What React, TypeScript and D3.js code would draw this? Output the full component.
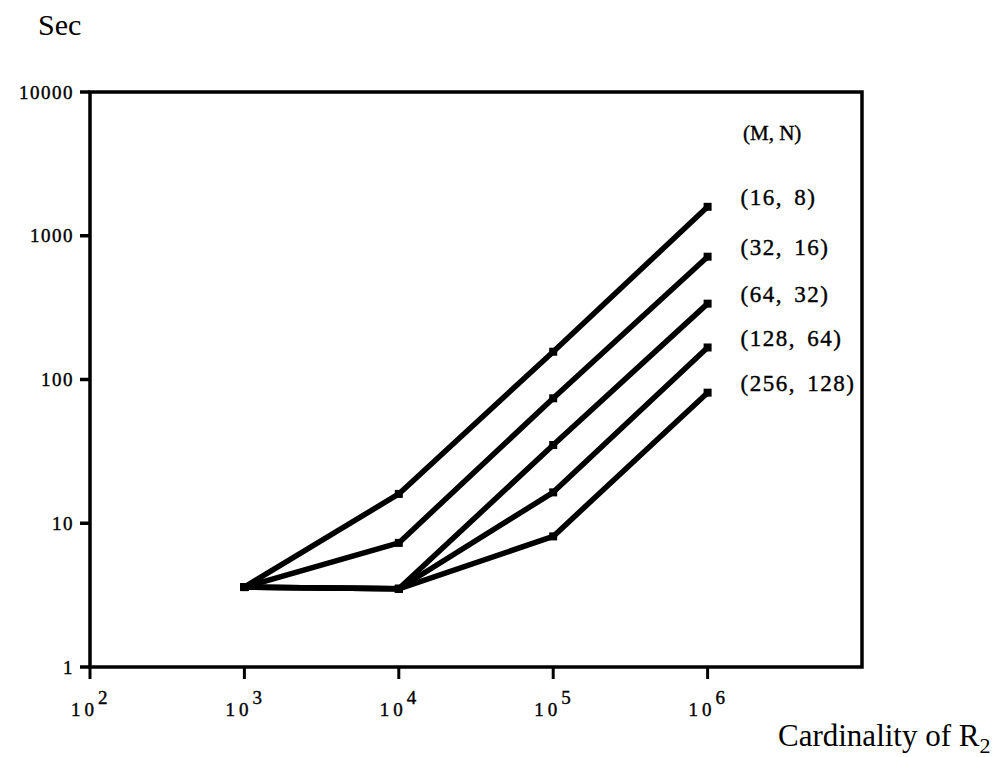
import React from 'react';
import * as d3 from 'd3';

// cardinality of R2 (x) and elapsed seconds (y)
const cardinalities = [1e3, 1e4, 1e5, 1e6];
const seriesLabels = ['(16, 8)', '(32, 16)', '(64, 32)', '(128, 64)', '(256, 128)'];
const secM16 = [3.6, 16, 156, 1590];
const secM32 = [3.6, 7.3, 74, 715];
const secM64 = [3.6, 3.5, 35, 337];
const secM128 = [3.6, 3.5, 16.4, 167];
const secM256 = [3.6, 3.5, 8.1, 81];
const seriesValues = [secM16, secM32, secM64, secM128, secM256];

const yTicks = [1, 10, 100, 1000, 10000];
const yTickLabels = ['1', '10', '100', '1000', '10000'];
const xTicks = [1e2, 1e3, 1e4, 1e5, 1e6];
const xTickExponents = ['2', '3', '4', '5', '6'];

const serif = '"Liberation Serif", "DejaVu Serif", serif';

const App = () => {
    const width = 998;
    const height = 757;

    const x = d3.scaleLog().domain([1e2, 1e7]).range([90, 862]);
    const y = d3.scaleLog().domain([1, 1e4]).range([667, 92]);

    const line = d3
        .line<number>()
        .x((_, i) => x(cardinalities[i]))
        .y((d) => y(d));

    const left = x.range()[0];
    const right = x.range()[1];
    const top = y.range()[1];
    const bottom = y.range()[0];

    // scanned text looks a little heavier than a plain serif
    const ink = { fill: '#000', stroke: '#000', strokeWidth: 0.4 };

    return (
        <svg
            width={width}
            height={height}
            style={{ position: 'absolute', left: 0, top: 0, background: '#fff' }}
        >
            {/* frame */}
            <rect
                x={left}
                y={top}
                width={right - left}
                height={bottom - top}
                fill="none"
                stroke="#000"
                strokeWidth={3.5}
            />

            {/* y axis ticks */}
            {yTicks.map((t, i) => (
                <g key={t}>
                    <line x1={left - 10} x2={left} y1={y(t)} y2={y(t)} stroke="#000" strokeWidth={3.5} />
                    <text
                        x={left - 16}
                        y={y(t)}
                        dy="0.35em"
                        textAnchor="end"
                        fontFamily={serif}
                        fontSize={19}
                        letterSpacing={1.5}
                        {...ink}
                    >
                        {yTickLabels[i]}
                    </text>
                </g>
            ))}

            {/* x axis ticks */}
            {xTicks.map((t, i) => (
                <g key={t}>
                    <line x1={x(t)} x2={x(t)} y1={bottom} y2={bottom + 12} stroke="#000" strokeWidth={3} />
                    <text x={x(t) - 19} y={bottom + 49} fontFamily={serif} fontSize={19} {...ink}>
                        <tspan letterSpacing={4}>10</tspan>
                        <tspan dy={-12}>{xTickExponents[i]}</tspan>
                    </text>
                </g>
            ))}

            {/* series */}
            {seriesValues.map((vals, s) => (
                <g key={seriesLabels[s]}>
                    <path d={line(vals) || ''} fill="none" stroke="#000" strokeWidth={5.5} strokeLinejoin="round" />
                    {vals.map((v, i) => (
                        <rect
                            key={i}
                            x={x(cardinalities[i]) - 4}
                            y={y(v) - 4}
                            width={8}
                            height={8}
                            fill="#000"
                        />
                    ))}
                    <text
                        x={x(cardinalities[cardinalities.length - 1]) + 33}
                        y={y(vals[vals.length - 1]) - 10}
                        dy="0.35em"
                        fontFamily={serif}
                        fontSize={23}
                        letterSpacing={1.5}
                        wordSpacing={4}
                        {...ink}
                    >
                        {seriesLabels[s]}
                    </text>
                </g>
            ))}

            <text x={743} y={140} fontFamily={serif} fontSize={21} {...ink}>
                (M, N)
            </text>

            <text x={38} y={35} fontFamily={serif} fontSize={30} fill="#000">
                Sec
            </text>

            <text x={778} y={746} fontFamily={serif} fontSize={31} fill="#000">
                Cardinality of R
                <tspan dy={7} fontSize={22}>2</tspan>
            </text>
        </svg>
    );
};

export default App;
